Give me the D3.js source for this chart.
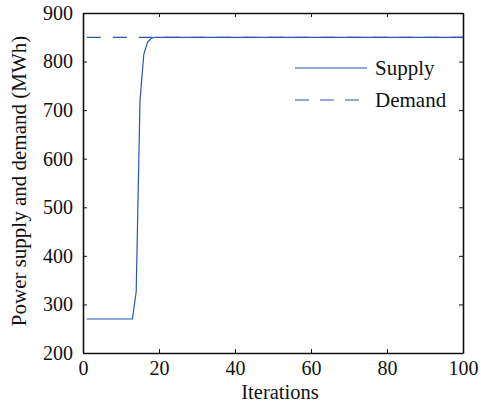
<!DOCTYPE html>
<html><head><meta charset="utf-8">
<script src="https://cdn.jsdelivr.net/npm/d3@7"></script>
<style>body{margin:0;background:#fff}svg{display:block}</style>
</head><body>
<script>
const iterations = d3.range(1, 101);
const supplyKnown = {14: 326, 15: 720, 16: 815, 17: 840, 18: 848};
const supply = iterations.map(i => i <= 13 ? 270 : (supplyKnown[i] !== undefined ? supplyKnown[i] : 850));
const demand = iterations.map(() => 850);
const xTicks = [0, 20, 40, 60, 80, 100];
const yTicks = [200, 300, 400, 500, 600, 700, 800, 900];
const seriesNames = ["Supply", "Demand"];

const FONT = "'Liberation Serif', 'Times New Roman', serif";
const W = 481, H = 403;
const m = {left: 83, right: 18, top: 13, bottom: 50};
const svg = d3.select("body").append("svg").attr("width", W).attr("height", H);
const x = d3.scaleLinear().domain([0, 100]).range([m.left, W - m.right]);
const y = d3.scaleLinear().domain([200, 900]).range([H - m.bottom, m.top]);
const color = "#2a55b5";

const line = d3.line().x((d, i) => x(iterations[i])).y(d => y(d));
svg.append("path").datum(demand).attr("d", line).attr("fill", "none")
  .attr("stroke", color).attr("stroke-width", 1.2).attr("stroke-dasharray", "14,12");
svg.append("path").datum(supply).attr("d", line).attr("fill", "none")
  .attr("stroke", color).attr("stroke-width", 1.2);

const fs = 20;
const axB = svg.append("g").attr("transform", `translate(0,${y(200)})`)
  .call(d3.axisBottom(x).tickValues(xTicks).tickSizeInner(-4).tickSizeOuter(0).tickPadding(8));
const axT = svg.append("g").attr("transform", `translate(0,${y(900)})`)
  .call(d3.axisTop(x).tickValues(xTicks).tickSizeInner(-4).tickSizeOuter(0).tickFormat(""));
const axL = svg.append("g").attr("transform", `translate(${x(0)},0)`)
  .call(d3.axisLeft(y).tickValues(yTicks).tickSizeInner(-4).tickSizeOuter(0).tickPadding(10));
const axR = svg.append("g").attr("transform", `translate(${x(100)},0)`)
  .call(d3.axisRight(y).tickValues(yTicks).tickSizeInner(-4).tickSizeOuter(0).tickFormat(""));
[axB, axT, axL, axR].forEach(a => {
  a.select(".domain").attr("stroke", "#111").attr("stroke-width", 1.6);
  a.selectAll(".tick line").attr("stroke", "#111");
  a.selectAll("text").style("font-family", FONT).style("font-size", fs + "px").attr("fill", "#111");
});

svg.append("text").attr("x", 280).attr("y", 399).attr("text-anchor", "middle")
  .style("font-family", FONT).style("font-size", "20.5px").attr("fill", "#111").text("Iterations");
svg.append("text").attr("transform", `translate(26,181) rotate(-90)`)
  .attr("text-anchor", "middle").style("font-family", FONT).style("font-size", "21px").attr("fill", "#111")
  .text("Power supply and demand (MWh)");

const lg = svg.append("g");
seriesNames.forEach((n, i) => {
  const ly = 68 + i * 32;
  lg.append("line").attr("x1", 295).attr("x2", 367).attr("y1", ly).attr("y2", ly)
    .attr("stroke", color).attr("stroke-width", 1.2).attr("stroke-dasharray", i ? "14,11" : null);
  lg.append("text").attr("x", 375).attr("y", ly + 7).style("font-family", FONT).style("font-size", "21px")
    .attr("fill", "#111").text(n);
});
</script>
</body></html>
